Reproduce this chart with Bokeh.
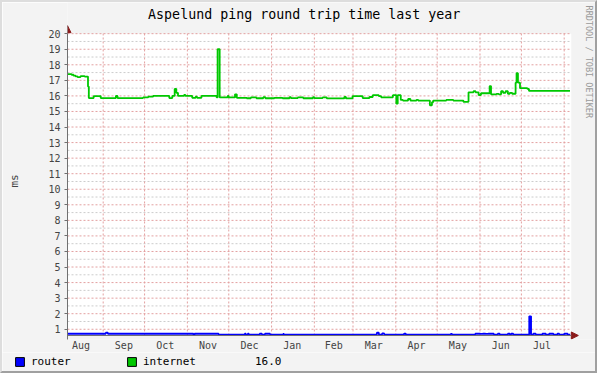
import math
from bokeh.plotting import figure
from bokeh.layouts import column
from bokeh.models import FixedTicker, Label, Legend, LegendItem, Arrow, NormalHead
from bokeh.embed import file_html
from bokeh.resources import INLINE

# ---- data -------------------------------------------------------------
month_start = [0, 31, 61, 92, 122, 153, 184, 212, 243, 273, 304, 334, 365]
month_names = ["Aug", "Sep", "Oct", "Nov", "Dec", "Jan", "Feb", "Mar", "Apr", "May", "Jun", "Jul"]
x_start, x_end = 5.15, 370.15          # shown time span, days from 1 Aug
y_lo, y_hi = 0.6, 20.0                 # value span of the plot area

y_ticks = list(range(1, 21))
y_minor = [v + 0.5 for v in range(1, 20)]

internet_day = [5.15, 8.1, 9.5, 11.0, 12.4, 14.6, 17.6, 20.0, 20.6, 24.1, 29.2, 40.2, 41.4,
                59.9, 63.6, 67.2, 78.9, 81.1, 82.8, 84.0, 85.2, 89.6, 90.6, 95.5, 98.0,
                99.0, 102.2, 113.2, 113.9, 115.4, 121.2, 121.9, 126.5, 127.8, 135.0,
                138.0, 142.0, 147.0, 148.5, 155.0, 161.0, 166.0, 167.0, 172.0, 176.0,
                183.0, 184.0, 190.0, 193.0, 205.7, 206.9, 211.7, 219.0, 223.9, 226.3,
                230.7, 232.4, 240.9, 243.4, 244.4, 246.6, 248.2, 251.9, 253.6, 258.0,
                259.2, 267.7, 269.2, 270.1, 279.6, 284.7, 292.0, 295.7, 299.3, 300.8,
                303.0, 304.7, 311.0, 312.0, 315.9, 317.6, 319.3, 320.7, 322.5, 324.2,
                325.6, 327.3, 329.8, 330.5, 331.5, 333.0, 338.3, 339.5, 369.2]
internet_ms = [17.40, 17.36, 17.30, 17.25, 17.21, 17.27, 17.24, 16.60, 15.86, 15.99, 15.86, 16.00, 15.86,
               15.90, 15.95, 16.00, 15.86, 16.00, 16.45, 16.20, 16.00, 16.06, 16.00, 15.88, 15.95,
               15.88, 16.00, 15.90, 19.00, 15.90, 16.00, 15.90, 16.10, 15.88, 15.85,
               15.90, 15.85, 15.92, 15.85, 15.88, 15.85, 15.92, 15.86, 15.90, 15.85,
               15.92, 15.86, 15.90, 15.84, 15.93, 15.84, 15.98, 15.86, 15.93, 16.05,
               15.98, 15.91, 16.05, 15.50, 16.05, 15.74, 15.70, 15.80, 15.70, 15.75,
               15.70, 15.40, 15.60, 15.70, 15.74, 15.70, 15.62, 16.23, 16.30, 16.23,
               16.06, 16.17, 16.63, 16.10, 16.13, 16.10, 16.30, 16.20, 16.30, 16.14,
               16.20, 16.14, 16.85, 17.46, 16.85, 16.50, 16.45, 16.32, 16.32]

router_day = [5.15, 32.9, 34.4, 96.4, 97.2, 114.6, 133.6, 134.3, 135.8, 136.5, 144.4, 146.0,
              148.2, 151.9, 161.4, 162.0, 229.3, 230.7, 233.1, 234.6, 249.0, 250.2, 282.8,
              283.8, 300.6, 304.2, 306.0, 308.0, 310.0, 314.0, 316.9, 318.3, 324.2, 325.6,
              326.6, 328.1, 339.7, 341.0, 342.6, 344.4, 349.2, 351.7, 354.1, 357.2, 360.1,
              361.4, 365.0, 367.5, 369.4]
router_ms = [0.71, 0.78, 0.71, 0.65, 0.71, 0.66, 0.71, 0.66, 0.71, 0.66, 0.71, 0.66,
             0.71, 0.66, 0.70, 0.66, 0.78, 0.66, 0.73, 0.66, 0.72, 0.66, 0.70,
             0.66, 0.71, 0.70, 0.71, 0.70, 0.71, 0.66, 0.71, 0.66, 0.71, 0.66,
             0.71, 0.66, 1.83, 0.66, 0.71, 0.66, 0.71, 0.66, 0.71, 0.66, 0.71,
             0.66, 0.71, 0.66, 0.66]

series_names = ["router", "internet"]
series_colors = ["#0000FF", "#00C800"]
last_value_text = "16.0"
title_text = "Aspelund ping round trip time last year"
watermark = "RRDTOOL / TOBI OETIKER"

# ---- geometry (page pixels) ------------------------------------------
B = 2                                        # CSS frame border width (inside the size)
PAGE_W = 597
CANVAS_W = PAGE_W - 2 * B                    # 593
MAIN_CH, LEG_CH = 350, 19                    # canvas heights (each has one 2px border)
PL, PR, PT, PB = 67, 567, 33, 333            # plot area edges on the page
px_per_day = (PR - PL) / (x_end - x_start)
px_per_ms = (PB - PT) / (y_hi - y_lo)
MONO = "DejaVu Sans Mono"
BACK = "#F3F3F3"
GRID_MAJOR = "#E3A0A0"
GRID_MINOR = "#CCCCCC"
AXIS = "#707070"
ARROW = "#8B1A1A"


def px_x(px):
    return x_start + (px - PL) / px_per_day


def px_y(py):
    return y_lo + (PB - py) / px_per_ms


frame_bottom_page = 337
p = figure(width=PAGE_W, height=MAIN_CH + B,
           x_range=(x_start, px_x(PAGE_W - B)),
           y_range=(px_y(frame_bottom_page), px_y(B)),
           output_backend="svg", toolbar_location=None, title=None,
           min_border_left=PL - B, min_border_right=0, min_border_top=0,
           min_border_bottom=MAIN_CH - (frame_bottom_page - B))
p.frame_align = False
p.styles = {"border-left": "2px solid #DDDDDD", "border-top": "2px solid #DDDDDD",
            "border-right": "2px solid #A0A0A0"}
p.background_fill_color = BACK
p.border_fill_color = BACK
p.outline_line_color = None
p.xgrid.visible = False
p.ygrid.visible = False

# white plot area
p.quad(left=[x_start], right=[x_end], bottom=[y_lo], top=[y_hi],
       fill_color="#FFFFFF", line_color=None)

# grid lines limited to the plot area
p.segment(x0=[x_start] * len(y_minor), x1=[x_end] * len(y_minor), y0=y_minor, y1=y_minor,
          line_color=GRID_MINOR, line_dash="2 2", line_width=1)
p.segment(x0=[x_start] * len(y_ticks), x1=[x_end] * len(y_ticks), y0=y_ticks, y1=y_ticks,
          line_color=GRID_MAJOR, line_dash="2 2", line_width=1)
vx = [m for m in month_start if x_start < m < x_end]
p.segment(x0=vx, x1=vx, y0=[y_lo] * len(vx), y1=[y_hi] * len(vx),
          line_color=GRID_MAJOR, line_dash="2 2", line_width=1)

# y axis
p.yaxis.ticker = FixedTicker(ticks=y_ticks, minor_ticks=[])
p.yaxis.bounds = (px_y(337), y_hi)
p.yaxis.axis_label = "ms\u00a0\u00a0\u00a0"
p.yaxis.axis_label_text_font = MONO
p.yaxis.axis_label_text_font_size = "11px"
p.yaxis.axis_label_text_font_style = "normal"
p.yaxis.axis_label_standoff = 24
p.yaxis.major_label_text_font = MONO
p.yaxis.major_label_text_font_size = "10px"
p.yaxis.major_label_standoff = 4
p.yaxis.major_tick_out = 3
p.yaxis.major_tick_in = 0
p.yaxis.minor_tick_line_color = None
p.yaxis.axis_line_color = AXIS
p.yaxis.major_tick_line_color = AXIS

# x axis: month names centred in each month
mids = [(a + b) // 2 for a, b in zip(month_start[:-1], month_start[1:])]
p.xaxis.ticker = FixedTicker(ticks=mids, minor_ticks=[])
p.xaxis.major_label_overrides = {m: n for m, n in zip(mids, month_names)}
p.xaxis.major_label_text_font = MONO
p.xaxis.major_label_text_font_size = "10px"
p.xaxis.major_label_standoff = 0
p.xaxis.major_tick_out = 0
p.xaxis.major_tick_in = 0
p.xaxis.major_tick_line_color = None
p.xaxis.minor_tick_line_color = None
p.xaxis.axis_line_color = None

# series
p.step(router_day, router_ms, mode="after", line_color=series_colors[0], line_width=1.8)
p.step(internet_day, internet_ms, mode="after", line_color=series_colors[1], line_width=1.8)

# axis arrows
p.add_layout(Arrow(end=NormalHead(size=7, fill_color=ARROW, line_color=ARROW),
                   x_start=x_start, y_start=y_hi, x_end=x_start, y_end=px_y(25),
                   line_color=AXIS, line_width=1))
p.add_layout(Arrow(end=NormalHead(size=7, fill_color=ARROW, line_color=ARROW),
                   x_start=px_x(63), y_start=y_lo, x_end=px_x(574), y_end=y_lo,
                   line_color=AXIS, line_width=1))

# title and vertical credit
p.add_layout(Label(x=px_x(147), y=px_y(14), text=title_text, text_font=MONO,
                   text_font_size="13.3px", text_baseline="middle", text_align="left",
                   text_color="#000000"))
p.add_layout(Label(x=px_x(585), y=px_y(5), text=watermark, text_font=MONO,
                   text_font_size="8.5px", angle=-math.pi / 2, text_align="left",
                   text_baseline="middle", text_color="#9A9A9A"))

# legend strip below
leg = figure(width=PAGE_W, height=LEG_CH + B, x_range=(0, CANVAS_W), y_range=(0, LEG_CH),
             output_backend="svg", toolbar_location=None, title=None,
             x_axis_location=None, y_axis_location=None,
             min_border_left=0, min_border_right=0, min_border_top=0, min_border_bottom=0)
leg.frame_align = False
leg.styles = {"border-left": "2px solid #DDDDDD", "border-right": "2px solid #A0A0A0",
              "border-bottom": "2px solid #A0A0A0"}
leg.background_fill_color = BACK
leg.border_fill_color = BACK
leg.outline_line_color = None
leg.xgrid.visible = False
leg.ygrid.visible = False

# legend proxies (placed outside the visible range; only their legend swatches show)
off = [-50]
leg_r = [leg.quad(left=off, right=off, bottom=off, top=off, fill_color=c,
                  line_color="#000000", line_width=1) for c in series_colors]
leg_r.append(leg.quad(left=off, right=off, bottom=off, top=off, fill_alpha=0, line_alpha=0))
legend = Legend(items=[LegendItem(label=series_names[0], renderers=[leg_r[0]]),
                       LegendItem(label=series_names[1], renderers=[leg_r[1]]),
                       LegendItem(label=last_value_text, renderers=[leg_r[2]])],
                location=(14 - B, 5), orientation="horizontal",
                glyph_width=11, glyph_height=11, label_height=11, label_standoff=6,
                label_width=95, spacing=0, padding=0, margin=0,
                border_line_color=None, background_fill_alpha=0,
                label_text_font=MONO, label_text_font_size="11px",
                label_text_color="#000000")
leg.add_layout(legend)

layout = column(p, leg, spacing=0)
open("out.html", "w").write(file_html(layout, INLINE))
